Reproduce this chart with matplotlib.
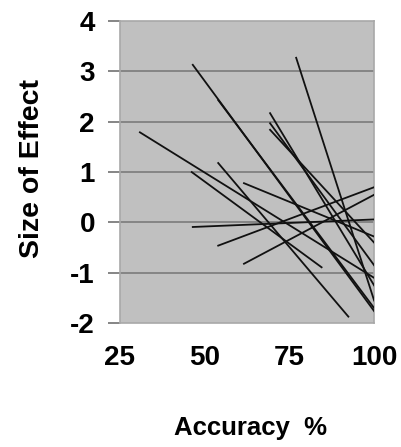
import matplotlib
matplotlib.use("Agg")
import matplotlib.pyplot as plt

# each study: accuracy at start/end and size of effect at start/end
x_start = [30.9, 46.2, 46.5, 46.5, 54.0, 54.0, 54.0, 61.6, 61.6, 69.3, 69.3, 69.3, 77.0]
y_start = [1.79, 1.00, -0.09, 3.13, 2.43, 1.18, -0.46, -0.82, 0.78, 2.17, 1.97, 1.84, 3.27]
x_end = [100, 84.5, 100, 100, 100, 92.4, 100, 100, 100, 100, 100, 100, 100]
y_end = [-1.10, -0.89, 0.06, -1.76, -1.70, -1.87, 0.70, 0.55, -0.28, -1.25, -0.85, -0.40, -1.55]

y_ticks = [-2, -1, 0, 1, 2, 3, 4]
x_ticks = [25, 50, 75, 100]

plt.rcParams['font.family'] = ['Liberation Sans', 'DejaVu Sans']
plt.rcParams['font.weight'] = 'bold'

fig = plt.figure(figsize=(4.01, 4.47), dpi=100)
ax = fig.add_axes([0.299, 0.277, 0.634, 0.676])
ax.set_facecolor('#c0c0c0')

for yt in y_ticks[1:-1]:
    ax.axhline(yt, color='#858585', lw=1.4, zorder=1)

for xs, ys, xe, ye in zip(x_start, y_start, x_end, y_end):
    ax.plot([xs, xe], [ys, ye], color='#111111', lw=1.3, zorder=3)

ax.set_xlim(25, 100)
ax.set_ylim(-2, 4)
ax.set_yticks(y_ticks)
ax.set_xticks(x_ticks)
ax.set_yticklabels([str(t) for t in y_ticks], fontsize=20, fontweight='bold')
ax.set_xticklabels([str(t) for t in x_ticks], fontsize=20, fontweight='bold')
ax.tick_params(axis='y', length=9, width=1.4, color='#858585', pad=9)
ax.tick_params(axis='x', length=0, pad=16)

for side in ['top', 'right', 'left', 'bottom']:
    ax.spines[side].set_color('#a8a8a8')
    ax.spines[side].set_linewidth(1.2)

fig.text(32 / 401, 1 - 168 / 447, 'Size of Effect', rotation=90, fontsize=20.5,
         fontweight='bold', ha='center', va='center')
fig.text(251 / 401, 1 - 428 / 447, 'Accuracy  %', fontsize=18.5,
         fontweight='bold', ha='center', va='center')

fig.savefig('out.png', dpi=100)
